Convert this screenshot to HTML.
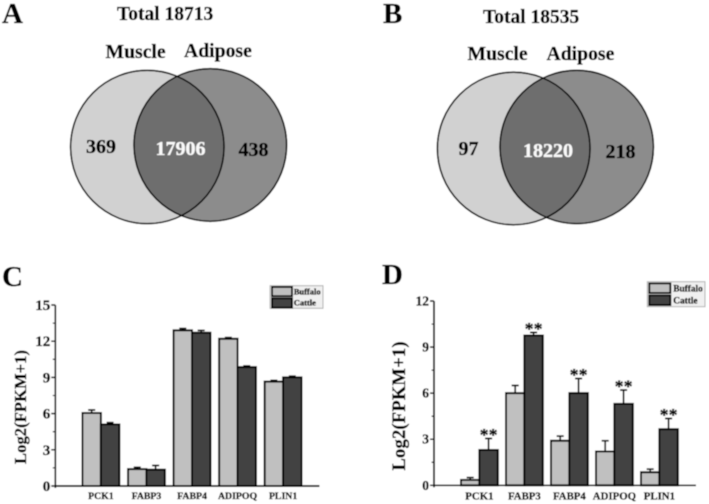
<!DOCTYPE html>
<html lang="en">
<head>
<meta charset="utf-8">
<title>Venn diagrams and expression bar charts</title>
<style>
html,body{margin:0;padding:0;background:#fff;width:709px;height:504px;overflow:hidden}
svg{display:block}
text{font-family:"Liberation Serif",serif;font-weight:bold;fill:#000;stroke:#000;stroke-width:0.3px}
</style>
</head>
<body>
<svg id="fig" width="709" height="504" viewBox="0 0 709 504" xmlns="http://www.w3.org/2000/svg">
<defs>
<filter id="soft" x="-2%" y="-2%" width="104%" height="104%"><feGaussianBlur stdDeviation="0.4"/></filter>
<clipPath id="clipA"><circle cx="147.3" cy="147" r="76.7"/></clipPath>
<clipPath id="clipB"><circle cx="513.7" cy="148.5" r="76.3"/></clipPath>
</defs>
<g id="root" filter="url(#soft)">
<rect width="709" height="504" fill="#fff"/>

<g>
<text x="2" y="23" font-size="29">A</text>
<text x="117" y="20" font-size="19.5">Total 18713</text>
<text x="105.5" y="58" font-size="19.7">Muscle</text>
<text x="184" y="57" font-size="19.7">Adipose</text>
<circle cx="147.3" cy="147" r="76.7" fill="#d1d1d1"/>
<circle cx="210.3" cy="145" r="76.3" fill="#8c8c8c"/>
<circle cx="210.3" cy="145" r="76.3" fill="#6e6e6e" clip-path="url(#clipA)"/>
<circle cx="147.3" cy="147" r="76.7" fill="none" stroke="#000" stroke-width="1.6"/>
<circle cx="210.3" cy="145" r="76.3" fill="none" stroke="#000" stroke-width="1.6"/>
<text x="86" y="153" font-size="20">369</text>
<text x="155.5" y="155" font-size="20" style="fill:#fafafa;stroke:#fafafa">17906</text>
<text x="238.5" y="156" font-size="20">438</text>
</g>

<g>
<text x="383" y="23" font-size="29">B</text>
<text x="483" y="23" font-size="19.5">Total 18535</text>
<text x="467.5" y="60" font-size="19.7">Muscle</text>
<text x="546.5" y="60" font-size="19.7">Adipose</text>
<circle cx="513.7" cy="148.5" r="76.3" fill="#d1d1d1"/>
<circle cx="576.7" cy="147" r="76.7" fill="#8c8c8c"/>
<circle cx="576.7" cy="147" r="76.7" fill="#6e6e6e" clip-path="url(#clipB)"/>
<circle cx="513.7" cy="148.5" r="76.3" fill="none" stroke="#000" stroke-width="1.6"/>
<circle cx="576.7" cy="147" r="76.7" fill="none" stroke="#000" stroke-width="1.6"/>
<text x="458.5" y="155" font-size="20">97</text>
<text x="523" y="157" font-size="20" style="fill:#fafafa;stroke:#fafafa">18220</text>
<text x="605.5" y="158" font-size="20">218</text>
</g>

<text x="2" y="286" font-size="29">C</text>
<text x="382" y="284" font-size="29">D</text>
<g id="chartC"></g>
<g id="chartD"></g>
</g>
</svg>
<script>
var categories = ['PCK1', 'FABP3', 'FABP4', 'ADIPOQ', 'PLIN1'];
var seriesNames = ['Buffalo', 'Cattle'];

var buffaloC = [6.05, 1.4, 12.9, 12.2, 8.65];
var cattleC = [5.1, 1.35, 12.7, 9.85, 9.0];
var buffaloErrC = [0.25, 0.15, 0.15, 0.1, 0.1];
var cattleErrC = [0.15, 0.35, 0.2, 0.1, 0.1];
var ticksC = [0, 3, 6, 9, 12, 15];

var buffaloD = [0.35, 6.0, 2.9, 2.2, 0.85];
var cattleD = [2.3, 9.75, 6.0, 5.3, 3.65];
var buffaloErrD = [0.15, 0.5, 0.3, 0.7, 0.2];
var cattleErrD = [0.75, 0.2, 0.95, 0.9, 0.7];
var ticksD = [0, 3, 6, 9, 12];
var significantD = [true, true, true, true, true];

var NS = 'http://www.w3.org/2000/svg';
function make(parent, tag, attrs, txt) {
  var el = document.createElementNS(NS, tag);
  for (var k in attrs) el.setAttribute(k, attrs[k]);
  if (txt !== undefined) el.textContent = txt;
  parent.appendChild(el);
  return el;
}

function drawChart(id, o) {
  var g = document.getElementById(id);
  var top = o.ticks[o.ticks.length - 1];
  function y(v) { return o.y0 - v / top * (o.y0 - o.yTop); }
  function barX(i, s) { return o.x0 + i * o.step + s * o.barW; }

  var colors = ['#c0c0c0', '#424242'];
  var sets = [[o.a, o.aErr], [o.b, o.bErr]];

  sets.forEach(function (set, s) {
    set[0].forEach(function (v, i) {
      var cx = barX(i, s) + o.barW / 2;
      var errTop = y(v + set[1][i]);
      var stem = make(g, 'line', { x1: cx, x2: cx, y1: y(v), y2: errTop, stroke: '#000', 'stroke-width': 1.7 });
      
      
      var cap = make(g, 'line', { x1: cx - 3.5, x2: cx + 3.5, y1: errTop, y2: errTop, stroke: '#000', 'stroke-width': 1.7 });
      
      
      var bar = make(g, 'rect', { x: barX(i, s), y: y(v), width: o.barW, height: o.y0 - y(v), fill: colors[s], stroke: '#000', 'stroke-width': 2 });
      
      
    });
  });

  var yAxis = make(g, 'line', { x1: o.axisX, x2: o.axisX, y1: o.yTop, y2: o.y0 + 2, stroke: '#000', 'stroke-width': 1.7 });
  
  
  var xAxis = make(g, 'line', { x1: o.axisX, x2: o.axisEnd, y1: o.y0, y2: o.y0, stroke: '#000', 'stroke-width': 1.7 });
  
  

  o.ticks.forEach(function (t, i) {
    var tick = make(g, 'line', { x1: o.axisX - 4, x2: o.axisX, y1: y(t), y2: y(t), stroke: '#000', 'stroke-width': 1.5 });
    
    
    var lab = make(g, 'text', { x: o.axisX - 5, y: y(t) + o.tickSize * 0.33, 'font-size': o.tickSize, 'text-anchor': 'end' }, String(t));
    
    
    if (i < o.ticks.length - 1) {
      var mid = (t + o.ticks[i + 1]) / 2;
      var minor = make(g, 'line', { x1: o.axisX - 2.5, x2: o.axisX, y1: y(mid), y2: y(mid), stroke: '#000', 'stroke-width': 1.1 });
      
      
    }
  });

  categories.forEach(function (c, i) {
    var lab = make(g, 'text', { x: barX(i, 1), y: o.y0 + o.catDy, 'font-size': o.catSize, 'text-anchor': 'middle' }, c);
    
    
  });

  var title = make(g, 'text', { x: 0, y: 0, 'font-size': o.titleSize, textLength: o.titleLen, lengthAdjust: 'spacing', 'text-anchor': 'middle', transform: 'translate(' + o.titleX + ' ' + o.titleY + ') rotate(-90)' }, 'Log2(FPKM+1)');
  
  

  if (o.sig) {
    o.sig.forEach(function (flag, i) {
      if (!flag) return;
      var star = make(g, 'text', { x: barX(i, 1) + o.barW / 2, y: y(o.b[i] + o.bErr[i]) + 2.5, 'font-size': 18, 'text-anchor': 'middle' }, '**');
      
      
    });
  }

  var L = o.legend;
  var box = make(g, 'rect', { x: L.x, y: L.y, width: L.w, height: L.h, fill: '#f0f0f0', stroke: '#aaa', 'stroke-width': 0.9 });
  
  
  seriesNames.forEach(function (n, s) {
    var sw = make(g, 'rect', { x: L.x + 2, y: L.rowY[s], width: L.sw, height: L.rowH, fill: colors[s], stroke: '#000', 'stroke-width': 1.9 });
    
    
    var t = make(g, 'text', { x: L.tx, y: L.base[s], 'font-size': L.size }, n);
    
    
  });
}

drawChart('chartC', {
  a: buffaloC, b: cattleC, aErr: buffaloErrC, bErr: cattleErrC, ticks: ticksC,
  y0: 486, yTop: 305, axisX: 55.3, axisEnd: 319.5,
  x0: 82.5, step: 45.55, barW: 18.4,
  tickSize: 15, catSize: 9.8, catDy: 13, titleSize: 16.5, titleLen: 114, titleX: 26, titleY: 407,
  legend: { x: 270, y: 285.7, w: 53, h: 22.6, sw: 20, rowH: 9.2, rowY: [287, 298.4], tx: 293.7, base: [294.5, 305.7], size: 8.5 }
});
drawChart('chartD', {
  a: buffaloD, b: cattleD, aErr: buffaloErrD, bErr: cattleErrD, ticks: ticksD, sig: significantD,
  y0: 485.3, yTop: 301, axisX: 434, axisEnd: 696,
  x0: 461, step: 45, barW: 18.4,
  tickSize: 13.5, catSize: 10.8, catDy: 14, titleSize: 18.5, titleLen: 129, titleX: 405, titleY: 406,
  legend: { x: 647.3, y: 281.7, w: 57.7, h: 25, sw: 21, rowH: 9.6, rowY: [283.4, 295.4], tx: 673.3, base: [291.5, 303.4], size: 9.3 }
});
</script>
</body>
</html>
